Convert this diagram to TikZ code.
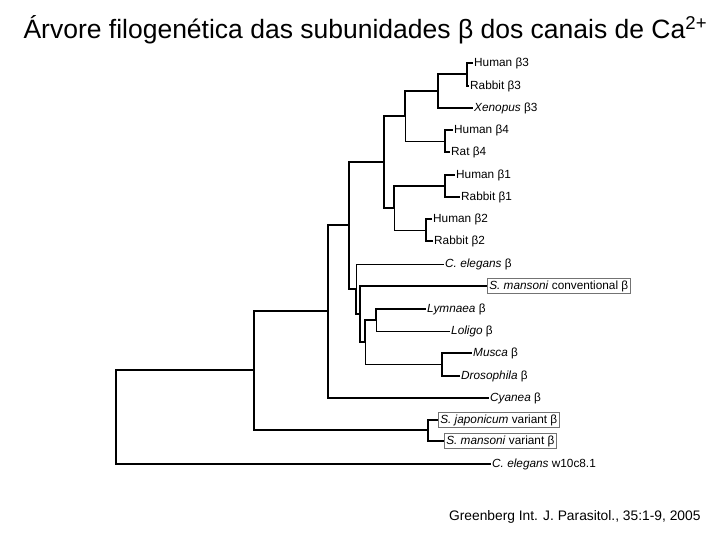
\documentclass[tikz,border=0pt]{standalone}
\usepackage{fontspec}
\setmainfont{Liberation Sans}
\usepackage{tikz}
\usetikzlibrary{positioning}

\tikzset{
  thk/.style={line width=1.9pt},
  thn/.style={line width=0.9pt},
  leaf/.style={anchor=west, inner sep=1pt, font=\fontsize{11.8}{13}\selectfont},
  boxed/.style={leaf, draw=black!55, line width=0.6pt, inner sep=2pt}
}

\begin{document}
\begin{tikzpicture}[x=1pt,y=-1pt]
\useasboundingbox (0,0) rectangle (720,540);
% Title and source
\node[anchor=west, font=\fontsize{26.5}{29}\selectfont] (title) at (20,30) {Árvore filogenética das subunidades β dos canais de Ca\textsuperscript{2+}};
\node[anchor=east, font=\fontsize{13.8}{15}\selectfont] (src) at (704,517) {Greenberg Int. J. Parasitol., 35:1-9, 2005};
% Leaves
\node[leaf] (h3)  at (473,63)  {Human β3};
\node[leaf] (r3)  at (469,86)  {Rabbit β3};
\node[leaf] (xe)  at (473,108) {\textit{Xenopus} β3};
\node[leaf] (h4)  at (453,130) {Human β4};
\node[leaf] (ra4) at (450,152) {Rat β4};
\node[leaf] (h1)  at (455,175) {Human β1};
\node[leaf] (r1)  at (460,197) {Rabbit β1};
\node[leaf] (h2)  at (432,219) {Human β2};
\node[leaf] (r2)  at (433,241) {Rabbit β2};
\node[leaf] (ce)  at (444,264) {\textit{C. elegans} β};
\node[boxed] (smc) at (487,286) {\textit{S. mansoni} conventional β};
\node[leaf] (ly)  at (426,309) {\textit{Lymnaea} β};
\node[leaf] (lo)  at (450,331) {\textit{Loligo} β};
\node[leaf] (mu)  at (472,353) {\textit{Musca} β};
\node[leaf] (dr)  at (460,376) {\textit{Drosophila} β};
\node[leaf] (cy)  at (489,398) {\textit{Cyanea} β};
\node[boxed] (sj)  at (438,420) {\textit{S. japonicum} variant β};
\node[boxed] (smv) at (444,441) {\textit{S. mansoni} variant β};
\node[leaf] (cw)  at (491,464) {\textit{C. elegans} w10c8.1};
% Internal nodes
\coordinate (n3)   at (467,74);
\coordinate (nx)   at (438,91);
\coordinate (n4)   at (445,141);
\coordinate (n34)  at (405,116);
\coordinate (n1)   at (445,186);
\coordinate (n2)   at (426,230);
\coordinate (n12)  at (394,208);
\coordinate (nv)   at (384,162);
\coordinate (nll)  at (376,320);
\coordinate (nmd)  at (442,364);
\coordinate (nin3) at (365,342);
\coordinate (nin2) at (360,314);
\coordinate (nin1) at (356,289);
\coordinate (nb)   at (349,225);
\coordinate (nc)   at (328,311);
\coordinate (ns)   at (428,430);
\coordinate (nA)   at (254,370);
\coordinate (root) at (116,417);
% Branches
\draw[thk] (n3) |- (h3.west);
\draw[thk] (n3) |- (r3.west);
\draw[thk] (nx) |- (n3);
\draw[thk] (nx) |- (xe.west);
\draw[thk] (n4) |- (h4.west);
\draw[thk] (n4) |- (ra4.west);
\draw[thk] (n34) |- (nx);
\draw[thn] (n34) |- (n4);
\draw[thk] (n1) |- (h1.west);
\draw[thk] (n1) |- (r1.west);
\draw[thk] (n2) |- (h2.west);
\draw[thk] (n2) |- (r2.west);
\draw[thk] (n12) |- (n1);
\draw[thn] (n12) |- (n2);
\draw[thk] (nv) |- (n34);
\draw[thk] (nv) |- (n12);
\draw[thk] (nll) |- (ly.west);
\draw[thn] (nll) |- (lo.west);
\draw[thk] (nmd) |- (mu.west);
\draw[thk] (nmd) |- (dr.west);
\draw[thk] (nin3) |- (nll);
\draw[thn] (nin3) |- (nmd);
\draw[thk] (nin2) |- (smc.west);
\draw[thk] (nin2) |- (nin3);
\draw[thn] (nin1) |- (ce.west);
\draw[thk] (nin1) |- (nin2);
\draw[thk] (nb) |- (nv);
\draw[thk] (nb) |- (nin1);
\draw[thk] (nc) |- (nb);
\draw[thk] (nc) |- (cy.west);
\draw[thk] (ns) |- (sj.west);
\draw[thk] (ns) |- (smv.west);
\draw[thk] (nA) |- (nc);
\draw[thk] (nA) |- (ns);
\draw[thk] (root) |- (nA);
\draw[thk] (root) |- (cw.west);
\end{tikzpicture}
\end{document}
